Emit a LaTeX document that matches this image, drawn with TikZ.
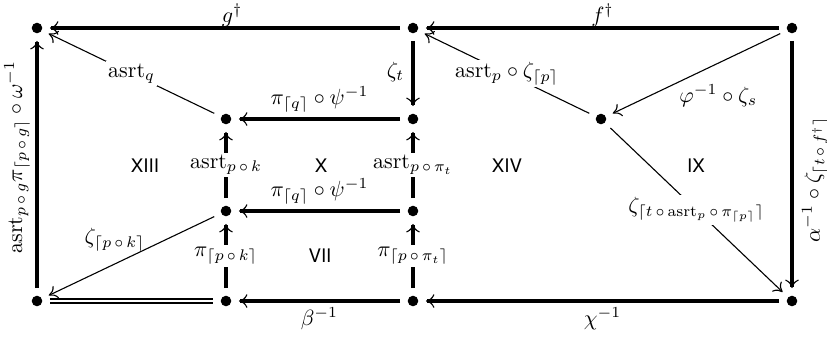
\documentclass[tikz,border=0pt]{standalone}
\usepackage{fontspec}
\newfontfamily\helv{TeX Gyre Heros}
\usetikzlibrary{arrows.meta}
\tikzset{
  dot/.style={circle, fill=black, inner sep=0pt, minimum size=4.8pt, outer sep=3.5pt},
  thickar/.style={line width=1.4pt, -{To[line width=0.5pt,length=3.8pt,width=6.2pt]}},
  thinar/.style={line width=0.5pt, -{To[line width=0.5pt,length=3.8pt,width=6.2pt]}},
  dbl/.style={double, double distance=1.1pt, line width=0.85pt},
  lab/.style={fill=white, inner sep=1pt},
  region/.style={font=\helv\fontsize{8.5}{10}\selectfont},
}
\newcommand{\asrt}{\mathrm{asrt}}
\begin{document}
\begin{tikzpicture}[x=0.4545pt, y=-0.4545pt]
\useasboundingbox (0,0) rectangle (827,338);
% nodes
\node[dot] (A) at (37,28) {};
\node[dot] (B) at (413,28) {};
\node[dot] (C) at (792,28) {};
\node[dot] (D) at (226,119) {};
\node[dot] (E) at (413,119) {};
\node[dot] (F) at (601,119) {};
\node[dot] (G) at (226,211) {};
\node[dot] (H) at (413,211) {};
\node[dot] (I) at (37,301) {};
\node[dot] (J) at (226,301) {};
\node[dot] (K) at (413,301) {};
\node[dot] (L) at (792,301) {};
% thick arrows
\draw[thickar] (B) -- node[pos=0.48, above=-0.8pt, inner sep=0.5pt] (lg) {$g^{\dagger}$} (A);
\draw[thickar] (C) -- node[midway, above=-0.8pt, inner sep=0.5pt] (lf) {$f^{\dagger}$} (B);
\draw[thickar] (B) -- node[pos=0.47, left] (lzt) {$\zeta_t$} (E);
\draw[thickar] (E) -- node[midway, above=-1pt] (lpq1) {$\pi_{\lceil q\rceil}\circ\psi^{-1}$} (D);
\draw[thickar] (G) -- node[midway, lab] (lapk) {$\asrt_{p\,\circ\,k}$} (D);
\draw[thickar] (H) -- node[midway, lab] (lapt) {$\asrt_{p\,\circ\,\pi_t}$} (E);
\draw[thickar] (H) -- node[midway, above=-1pt] (lpq2) {$\pi_{\lceil q\rceil}\circ\psi^{-1}$} (G);
\draw[thickar] (J) -- node[midway, lab] (lppk) {$\pi_{\lceil p\,\circ\,k\rceil}$} (G);
\draw[thickar] (K) -- node[midway, lab] (lppt) {$\pi_{\lceil p\,\circ\,\pi_t\rceil}$} (H);
\draw[thickar] (K) -- node[midway, below=-1pt] (lb) {$\beta^{-1}$} (J);
\draw[thickar] (L) -- node[midway, below=-1pt] (lc) {$\chi^{-1}$} (K);
\draw[thickar] (I) -- node[pos=0.53, sloped, above=-0.8pt] (lw) {$\asrt_{p\,\circ\,g}\pi_{\lceil p\,\circ\,g\rceil}\circ\omega^{-1}$} (A);
\draw[thickar] (C) -- node[pos=0.56, rotate=90, anchor=north, yshift=-0.5pt] (la) {$\alpha^{-1}\circ\zeta_{\lceil t\,\circ\,f^{\dagger}\rceil}$} (L);
\draw[dbl] (I) -- (J);
% thin arrows
\draw[thinar] (D) -- node[midway, lab] (laq) {$\asrt_q$} (A);
\draw[thinar] (G) -- node[pos=0.6, above=2pt] (lzpk) {$\zeta_{\lceil p\,\circ\,k\rceil}$} (I);
\draw[thinar] (C) -- node[pos=0.37, below=6pt] (lphi) {$\varphi^{-1}\circ\zeta_s$} (F);
\draw[thinar] (F) -- node[midway, lab] (lapz) {$\asrt_p\circ\zeta_{\lceil p\rceil}$} (B);
\draw[thinar] (F) -- node[midway, lab] (lzt2) {$\zeta_{\lceil t\,\circ\,\asrt_p\,\circ\,\pi_{\lceil p\rceil}\rceil}$} (L);
% region labels
\node[region] (r13) at (145,166) {XIII};
\node[region] (r10) at (321,166) {X};
\node[region] (r14) at (507,166) {XIV};
\node[region] (r9) at (696,166) {IX};
\node[region] (r7) at (320,256) {VII};
\end{tikzpicture}
\end{document}
